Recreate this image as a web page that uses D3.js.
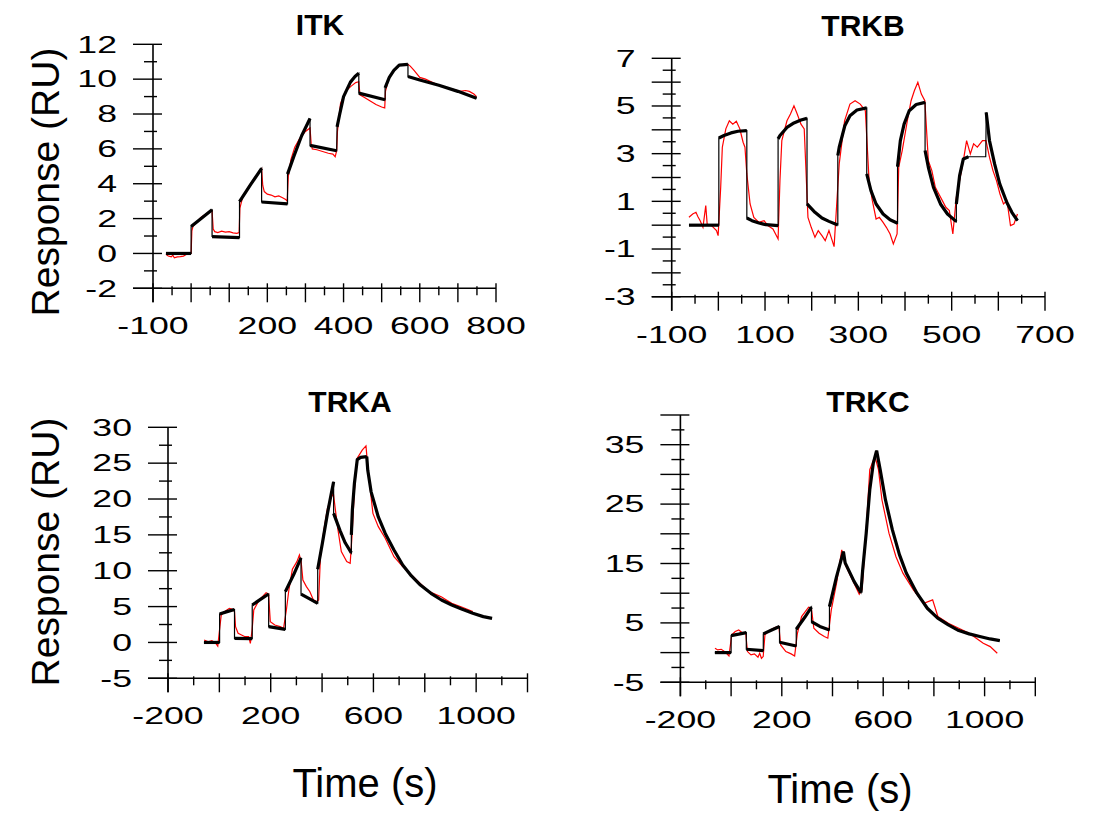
<!DOCTYPE html>
<html>
<head>
<meta charset="utf-8">
<script src="https://cdn.jsdelivr.net/npm/d3@7"></script>
<style>
  body { margin: 0; background: #fff; }
  svg text { font-family: "Liberation Sans", Arial, sans-serif; fill: #000; }
</style>
</head>
<body>
<svg id="chart" width="1097" height="815"></svg>
<script>
// ---- data: each fit is a list of phases ([time, response] points), raw is the measured trace ----
const itkFit = [
  [[-66,0],[0,0]],
  [[0,1.54],[28,2.03],[55,2.5]],
  [[55,0.97],[127,0.91]],
  [[127,2.97],[156,3.95],[185,4.88]],
  [[185,2.95],[253,2.84]],
  [[253,4.55],[270,5.6],[290,6.75],[312,7.74]],
  [[312,6.2],[382,5.89]],
  [[383,7.26],[390,8.0],[400,9.0],[418,9.83],[430,10.15],[440,10.34]],
  [[440,9.2],[509,8.82]],
  [[509,9.5],[520,10.1],[532,10.5],[546,10.8],[569,10.85]],
  [[569,10.15],[600,9.95],[650,9.65],[700,9.3],[749,8.91]]
];
const itkRaw = [
  [-66,-0.05],[-60,-0.15],[-52,-0.2],[-48,-0.1],[-44,-0.25],[-36,-0.2],[-28,-0.18],[-20,-0.15],[-12,-0.05],[-5,0.0],[0,0.0],
  [2,1.3],[5,1.55],[15,1.8],[25,2.05],[35,2.2],[45,2.35],[55,2.45],
  [58,1.4],[62,1.25],[70,1.2],[80,1.28],[90,1.22],[100,1.25],[110,1.18],[120,1.15],[126,1.2],
  [128,2.6],[135,3.2],[150,3.8],[165,4.3],[180,4.7],[185,4.85],
  [188,3.9],[192,3.55],[200,3.4],[210,3.35],[220,3.25],[230,3.3],[240,3.2],[248,3.1],[252,3.0],
  [255,4.4],[262,5.4],[272,6.1],[285,6.6],[300,7.0],[312,7.2],
  [315,6.3],[318,6.0],[330,5.95],[345,5.85],[360,5.75],[372,5.7],[378,5.55],[382,5.9],
  [384,7.0],[392,8.6],[405,9.3],[420,9.6],[432,9.8],[440,9.85],
  [443,9.1],[455,8.95],[470,8.75],[485,8.55],[500,8.4],[508,8.35],
  [510,9.3],[518,10.0],[530,10.45],[545,10.8],[560,10.85],[569,10.85],
  [575,10.75],[585,10.5],[600,10.1],[615,10.0],[630,9.85],[650,9.65],[670,9.5],[690,9.4],[705,9.3],[720,9.35],[730,9.3],[742,9.15],[749,9.0]
];

const trkbFit = [
  [[-63,0],[1,0]],
  [[1,3.66],[12,3.76],[27,3.87],[42,3.94],[61,3.97]],
  [[61,0.30],[72,0.19],[87,0.09],[102,0.02],[128,-0.02]],
  [[128,3.62],[132,3.76],[147,4.1],[162,4.29],[177,4.41],[190,4.48]],
  [[190,0.89],[207,0.54],[222,0.30],[237,0.16],[256,0.01]],
  [[256,2.92],[259,3.27],[271,4.17],[282,4.59],[297,4.83],[318,4.92]],
  [[318,2.15],[327,1.45],[338,0.89],[353,0.47],[368,0.23],[384,0.08]],
  [[384,2.45],[390,3.55],[398,4.24],[409,4.80],[424,5.06],[443,5.15]],
  [[443,3.13],[450,2.43],[461,1.59],[476,0.89],[491,0.47],[510,0.15]],
  [[510,0.89],[517,2.08],[525,2.78],[536,2.87]],
  [[536,2.87],[573,2.87]],
  [[574,4.73],[581,3.55],[592,2.57],[603,1.73],[618,0.96],[629,0.54],[641,0.19]]
];
const trkbRaw = [
  [-63,0.33],[-55,0.47],[-48,0.54],[-44,0.36],[-39,0.19],[-33,-0.09],[-27,0.82],[-24,0.05],[-14,-0.03],[-4,-0.23],[-0.5,-0.44],
  [5,1.59],[8.5,3.27],[16,4.04],[23.5,4.38],[31,4.24],[38.5,4.36],[46,4.04],[53,3.48],[57,3.27],[61,2.15],
  [68,0.89],[76,0.33],[87,0.12],[98,0.19],[106,-0.02],[117,-0.16],[128,-0.58],
  [132,1.87],[136,3.55],[147,4.38],[154.5,4.66],[162,5.01],[169,4.66],[177,4.24],[184,4.04],
  [192,0.33],[199,-0.09],[207,-0.51],[214,-0.23],[222,-0.44],[229,-0.65],[237,-0.23],[244,-0.65],[248,-0.9],
  [259,2.57],[270.5,4.38],[282,5.08],[293,5.22],[304,5.08],[315,4.80],
  [323,1.87],[330,1.03],[338,0.26],[345,0.33],[353,0.12],[360,-0.09],[368,-0.37],[375,-0.79],[383,-0.37],
  [386.5,2.43],[394,3.13],[405,4.38],[413,5.22],[420,5.64],[427.5,5.99],[435,5.50],[442.5,5.22],
  [450,2.71],[457.5,2.29],[465,1.59],[472.5,1.31],[480,1.03],[487.5,0.75],[495,0.61],[502.5,-0.37],
  [510,1.17],[517,1.87],[525,2.71],[532,3.55],[540,2.99],[547,3.41],[555,3.27],[566,3.55],[573.5,3.55],
  [581,2.85],[588.5,2.29],[596,1.87],[603.5,1.31],[611,0.89],[618.5,1.03],[626,-0.02],[633.5,0.05],[641,0.47]
];

const trkaFit = [
  [[-60,0],[1,0]],
  [[1,3.97],[30,4.3],[59,4.6]],
  [[59,0.57],[128,0.53]],
  [[128,5.22],[160,6.0],[192,6.75]],
  [[192,2.2],[257,1.83]],
  [[257,7.08],[290,9.5],[318,11.8]],
  [[318,6.75],[350,6.1],[383,5.45]],
  [[383,10.2],[401,13.8],[421,18.0],[435,20.6],[445,22.4]],
  [[445,18.0],[470,15.6],[490,13.9],[514,12.5]],
  [[514,15.0],[518,18.5],[526,22.2],[537,25.5],[550,25.8],[574,25.9]],
  [[574,25.9],[578,24.0],[591,21.0],[619,17.5],[646,15.2],[680,12.9],[714,10.8],[748,9.27],[783,8.0],
   [824,6.85],[865,5.92],[905,5.22],[946,4.62],[987,4.06],[1028,3.6],[1062,3.36]]
];
const trkaRaw = [
  [-59.5,0.34],[-43,0.1],[-29.4,0.25],[-15.8,-0.03],[-6.2,-0.5],[0.6,1.73],[7.4,3.83],[25,4.43],[39,4.76],[52,4.62],[59,4.29],
  [63,2.2],[73,1.27],[86.5,1.04],[100,0.8],[114,0.8],[120.7,-0.13],[127.5,1.73],[134,4.52],[155,5.92],[182,6.94],[191.6,6.75],
  [198.4,2.9],[216,2.43],[236.6,2.2],[250,1.97],[261,4.52],[270.7,7.31],[284.4,10.2],[302,11.27],[311.7,12.2],[318.5,11.27],
  [325.3,8.7],[339,7.78],[352.6,7.08],[366.3,5.92],[380,5.69],[386.7,5.92],[393.6,11.96],[407,15.68],[421,18.7],[434.5,20.1],[444,20.8],
  [452,18.47],[462,15.68],[475,12.66],[496,11.27],[509.5,11.03],[516.4,14.75],[526,21.26],[536.8,25.68],[557,26.84],[571,27.4],
  [578,24.51],[598,18.0],[619,16.15],[646,14.52],[680,11.96],[714,10.57],[748,9.41],[782,8.24],[817,7.08],[864,6.38],[905,5.45],[946,4.9],[987,4.29]
];

const trkcFit = [
  [[-64,0],[0,0]],
  [[0,2.87],[30,3.1],[60,3.37]],
  [[60,0.56],[127,0.34]],
  [[127,3.15],[160,3.8],[191,4.38]],
  [[191,1.74],[257,1.12]],
  [[257,3.93],[290,5.9],[317,7.64]],
  [[317,5.22],[350,4.4],[388,3.82]],
  [[388,7.75],[416,12.8],[443,17.0]],
  [[443,17.0],[450,15.1],[485,12.0],[512,10.1]],
  [[512,10.1],[519,13.9],[533,20.1],[547,27.4],[561,31.9],[574,34.0]],
  [[574,34.0],[588,30.8],[609,25.7],[636,20.7],[664,16.5],[691,13.4],[733,10.0],[774,7.47],[815,5.79],
   [857,4.66],[898,3.71],[939,3.15],[981,2.70],[1022,2.30],[1060,2.02]]
];
const trkcRaw = [
  [-63.6,0.73],[-52.6,0.45],[-38.8,0.56],[-25,0.17],[-8.5,-0.56],[2.6,2.98],[16.3,3.54],[30,3.82],[46.7,3.26],[57.7,3.26],
  [64.6,0.17],[78.4,-0.39],[92,-0.22],[106,-0.79],[112.8,-0.11],[119.7,-0.96],[126.6,-0.67],[133.5,2.98],[154,3.82],[175,4.27],[188.6,4.38],
  [195.5,1.29],[216,0.17],[236.8,-0.22],[250.6,-0.56],[261.6,3.26],[278,6.07],[305.7,7.64],[316.8,7.47],
  [326.4,4.1],[347,3.26],[367.7,2.7],[381.5,2.42],[395.3,7.19],[416,11.69],[436.6,17.3],[450.4,14.78],[485,11.69],[505.5,9.83],
  [516.6,10.56],[533,20.67],[547,30.79],[567.5,33.03],[581.3,30.79],[595,25.73],[622.7,20.11],[650,16.18],[677.8,13.37],
  [719,10.56],[760.5,8.31],[795,8.88],[815.6,6.07],[857,4.94],[898,4.1],[939.6,3.26],[967,2.42],[994.7,1.57],[1022,1.01],[1050,-0.11]
];

// ---- tick labels ----
const itkXLabels  = [-100, 200, 400, 600, 800];
const itkYLabels  = [-2, 0, 2, 4, 6, 8, 10, 12];
const trkbXLabels = [-100, 100, 300, 500, 700];
const trkbYLabels = [-3, -1, 1, 3, 5, 7];
const trkaXLabels = [-200, 200, 600, 1000];
const trkaYLabels = [-5, 0, 5, 10, 15, 20, 25, 30];
const trkcXLabels = [-200, 200, 600, 1000];
const trkcYLabels = [-5, 5, 15, 25, 35];

const panels = [
  { title: "ITK", fit: itkFit, raw: itkRaw, xLabels: itkXLabels, yLabels: itkYLabels,
    xDomain: [-100, 800], xRange: [153, 496], xStep: 100,
    yDomain: [-2, 12], yRange: [288.3, 44.3], yStep: 2,
    titlePos: [320, 35], ylab: 182, xlab: null, thin: [] },
  { title: "TRKB", fit: trkbFit, raw: trkbRaw, xLabels: trkbXLabels, yLabels: trkbYLabels,
    xDomain: [-100, 700], xRange: [671.7, 1045], xStep: 100,
    yDomain: [-3, 7], yRange: [296.7, 58.3], yStep: 1,
    titlePos: [863, 36], ylab: null, xlab: null, thin: [10] },
  { title: "TRKA", fit: trkaFit, raw: trkaRaw, xLabels: trkaXLabels, yLabels: trkaYLabels,
    xDomain: [-200, 1200], xRange: [168, 527.5], xStep: 200,
    yDomain: [-5, 30], yRange: [678.3, 427.3], yStep: 5,
    titlePos: [350, 412], ylab: 552, xlab: [365, 797], thin: [] },
  { title: "TRKC", fit: trkcFit, raw: trkcRaw, xLabels: trkcXLabels, yLabels: trkcYLabels,
    xDomain: [-200, 1200], xRange: [680.4, 1035.3], xStep: 200,
    yDomain: [-5, 40], yRange: [682.3, 415], yStep: 5,
    titlePos: [868, 412], ylab: null, xlab: [840, 803], thin: [] }
];

const svg = d3.select("#chart");

function drawPanel(p) {
  const x = d3.scaleLinear().domain(p.xDomain).range(p.xRange);
  const y = d3.scaleLinear().domain(p.yDomain).range(p.yRange);
  const g = svg.append("g");
  const ax = x(p.xDomain[0]), ay = y(p.yDomain[0]);

  // axis lines
  g.append("line").attr("x1", ax - 20).attr("x2", x(p.xDomain[1]))
    .attr("y1", ay).attr("y2", ay).attr("stroke", "#000").attr("stroke-width", 1.6);
  g.append("line").attr("x1", ax).attr("x2", ax)
    .attr("y1", y(p.yDomain[1])).attr("y2", ay + 14).attr("stroke", "#000").attr("stroke-width", 1.6);

  // y ticks, crossing the axis
  const yMajor = d3.range(p.yDomain[0], p.yDomain[1] + 1e-9, p.yStep);
  const yMinor = d3.range(p.yDomain[0] + p.yStep / 2, p.yDomain[1], p.yStep);
  g.selectAll(".ymaj").data(yMajor).join("line")
    .attr("x1", ax - 20).attr("x2", ax + 9).attr("y1", d => y(d)).attr("y2", d => y(d))
    .attr("stroke", "#000").attr("stroke-width", 1.4);
  g.selectAll(".ymin").data(yMinor).join("line")
    .attr("x1", ax - 9).attr("x2", ax + 4).attr("y1", d => y(d)).attr("y2", d => y(d))
    .attr("stroke", "#000").attr("stroke-width", 1.4);

  // x ticks
  const xMajor = d3.range(p.xDomain[0], p.xDomain[1] + 1e-9, p.xStep);
  const xMinor = d3.range(p.xDomain[0] + p.xStep / 2, p.xDomain[1], p.xStep);
  g.selectAll(".xmaj").data(xMajor).join("line")
    .attr("x1", d => x(d)).attr("x2", d => x(d)).attr("y1", ay - 5).attr("y2", ay + 14)
    .attr("stroke", "#000").attr("stroke-width", 1.4);
  g.selectAll(".xmin").data(xMinor).join("line")
    .attr("x1", d => x(d)).attr("x2", d => x(d)).attr("y1", ay - 2).attr("y2", ay + 7)
    .attr("stroke", "#000").attr("stroke-width", 1.4);

  // tick labels (wide digits)
  g.selectAll(".ylab").data(p.yLabels).join("text")
    .attr("transform", d => `translate(${ax - 36},${y(d) + 8.3}) scale(1.55,1)`)
    .attr("text-anchor", "end").attr("font-size", 23).text(d => d);
  g.selectAll(".xlab").data(p.xLabels).join("text")
    .attr("transform", d => `translate(${x(d)},${ay + 46}) scale(1.55,1)`)
    .attr("text-anchor", "middle").attr("font-size", 23).text(d => d);

  // measured trace
  const line = d3.line().x(d => x(d[0])).y(d => y(d[1]));
  g.append("path").attr("d", line(p.raw))
    .attr("fill", "none").attr("stroke", "#ff0000").attr("stroke-width", 1.2);

  // fitted curve: thin connector through all phases, thick phases on top
  g.append("path").attr("d", line(p.fit.flat()))
    .attr("fill", "none").attr("stroke", "#000").attr("stroke-width", 1.2);
  p.fit.forEach((ph, i) => {
    if (p.thin.includes(i)) return;
    g.append("path").attr("d", line(ph))
      .attr("fill", "none").attr("stroke", "#000").attr("stroke-width", 3.2)
      .attr("stroke-linejoin", "round");
  });

  // titles
  g.append("text").attr("x", p.titlePos[0]).attr("y", p.titlePos[1])
    .attr("text-anchor", "middle").attr("font-size", 30).attr("font-weight", "bold").text(p.title);
  if (p.ylab !== null) {
    g.append("text").attr("transform", `translate(59,${p.ylab}) rotate(-90)`)
      .attr("text-anchor", "middle").attr("font-size", 39).text("Response (RU)");
  }
  if (p.xlab !== null) {
    g.append("text").attr("x", p.xlab[0]).attr("y", p.xlab[1])
      .attr("text-anchor", "middle").attr("font-size", 40).text("Time (s)");
  }
}

panels.forEach(drawPanel);
</script>
</body>
</html>
